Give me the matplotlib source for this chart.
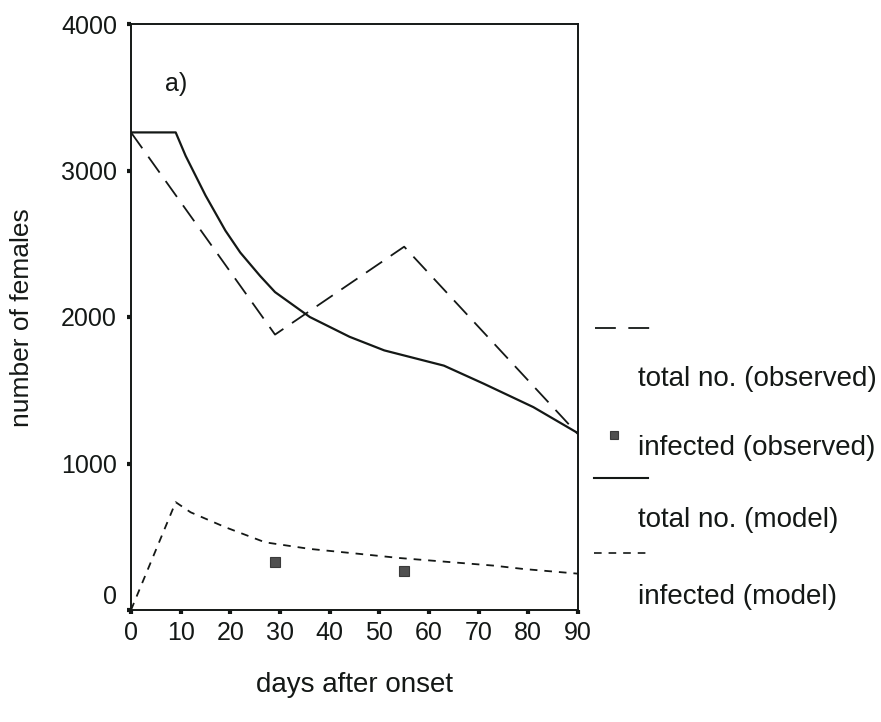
import matplotlib
matplotlib.use('Agg')
import matplotlib.pyplot as plt
from matplotlib.lines import Line2D
from matplotlib.transforms import ScaledTranslation

plt.rcParams['font.family'] = ['Liberation Sans', 'DejaVu Sans']
plt.rcParams['lines.scale_dashes'] = False

# observed total number of females
obs_days = [0, 29, 55, 90]
obs_total = [3260, 1880, 2480, 1200]

# observed infected females
obs_inf_days = [29, 55]
obs_infected = [328, 269]

# model: total number of females
model_days = [0, 9, 11, 15, 19, 22, 26, 29, 36, 44, 51, 63, 71, 81, 90]
model_total = [3260, 3260, 3100, 2830, 2590, 2440, 2280, 2170, 2000, 1865, 1772,
               1668, 1545, 1385, 1207]

# model: infected females
model_inf_days = [0, 9, 12, 19, 27, 36, 46, 54, 73, 79, 90]
model_infected = [0, 736, 667, 565, 462, 417, 383, 355, 303, 280, 248]

x_ticks = [0, 10, 20, 30, 40, 50, 60, 70, 80, 90]
y_ticks = [0, 1000, 2000, 3000, 4000]

ink = '#141816'
W, H = 881, 722

fig = plt.figure(figsize=(W / 100, H / 100), dpi=100)
ax = fig.add_axes([131 / W, 1 - 610 / H, (578 - 131) / W, (610 - 24) / H])

ax.plot(obs_days, obs_total, color=ink, lw=1.3, dashes=(14, 7.5))
ax.plot(model_days, model_total, color=ink, lw=1.6)
ax.plot(model_inf_days, model_infected, color=ink, lw=1.3, dashes=(5.5, 5))
ax.plot(obs_inf_days, obs_infected, ls='none', marker='s', ms=7.5,
        color='#505050', mec='#3a3a3a', mew=0.8)

ax.set_xlim(0, 90)
ax.set_ylim(0, 4000)
ax.set_xticks(x_ticks)
ax.set_yticks(y_ticks)
ax.tick_params(direction='out', length=3, width=3, color=ink,
               labelsize=18, labelcolor=ink)
ax.tick_params(axis='y', pad=7)
ax.tick_params(axis='x', pad=5)
for s in ax.spines.values():
    s.set_linewidth(1.4)
    s.set_color(ink)

# the zero label sits a little above its tick
zero_lbl = ax.get_yticklabels()[0]
zero_lbl.set_transform(zero_lbl.get_transform() + ScaledTranslation(0, 0.15, fig.dpi_scale_trans))

ax.text(9, 3590, 'a)', fontsize=18, color=ink, ha='center', va='center')

fig.text(22 / W, 1 - 318 / H, 'number of females', rotation=90, fontsize=19,
         color=ink, ha='center', va='center')
fig.text(354 / W, 1 - 685 / H, 'days after onset', fontsize=20, color=ink,
         ha='center', va='center')


# legend drawn outside the axes, key above each label
def px(x, y):
    return x / W, 1 - y / H


def key_line(x0, x1, y, **kw):
    (fx0, fy), (fx1, _) = px(x0, y), px(x1, y)
    fig.add_artist(Line2D([fx0, fx1], [fy, fy], transform=fig.transFigure,
                          color=ink, **kw))


def key_text(y, s):
    fx, fy = px(638, y)
    fig.text(fx, fy, s, fontsize=20, color=ink, ha='left', va='center')


key_line(595, 650, 328, lw=1.3, dashes=(15, 9))
key_text(379, 'total no. (observed)')
mx, my = px(614, 435)
fig.add_artist(Line2D([mx], [my], transform=fig.transFigure, ls='none', marker='s',
                      ms=6, color='#505050', mec='#3a3a3a', mew=0.8))
key_text(448, 'infected (observed)')
key_line(594, 648, 478, lw=1.5)
key_text(520, 'total no. (model)')
key_line(594, 648, 553, lw=1.2, dashes=(5.5, 5))
key_text(597, 'infected (model)')

fig.savefig('out.png', dpi=100)
